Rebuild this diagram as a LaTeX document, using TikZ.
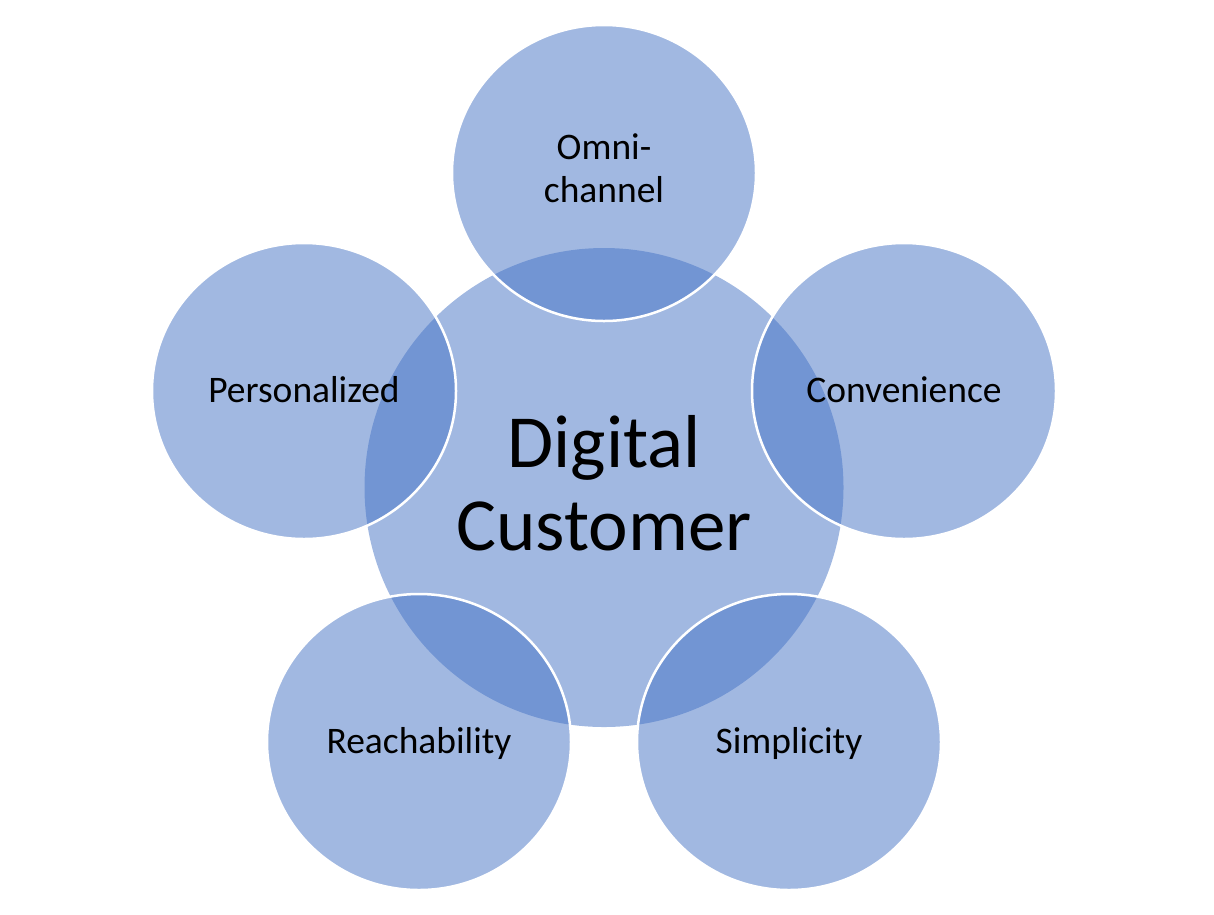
\documentclass[tikz,border=0pt]{standalone}
\usepackage{fontspec}
\setmainfont{Carlito}
\usepackage{tikz}
\usetikzlibrary{shapes.geometric}
\definecolor{DCBlue}{RGB}{68,114,196}

\begin{document}
\begin{tikzpicture}[x=1pt,y=-1pt,
  hub/.style={circle,fill=DCBlue,fill opacity=0.5,text opacity=1,minimum size=479pt,
              inner sep=0pt,align=center,font=\fontsize{75}{83}\selectfont,
              text height=125pt,text depth=0pt},
  trait/.style={ellipse,draw=white,draw opacity=1,line width=2.5pt,fill=DCBlue,
                fill opacity=0.5,text opacity=1,minimum width=304pt,minimum height=296pt,
                inner sep=0pt,align=center,font=\fontsize{37.5}{43}\selectfont,
                text height=22pt,text depth=0pt},
]
\useasboundingbox (0,0) rectangle (1214,914);
\node[hub] (customer) at (604,487.5) {Digital\\Customer};
\node[trait,text height=58pt] (omni) at (604,173) {Omni-\\channel};
\node[trait] (personal) at (304,391) {Personalized};
\node[trait] (conven) at (904,391) {Convenience};
\node[trait] (reach) at (419,742) {Reachability};
\node[trait] (simple) at (789,742) {Simplicity};
\end{tikzpicture}
\end{document}
